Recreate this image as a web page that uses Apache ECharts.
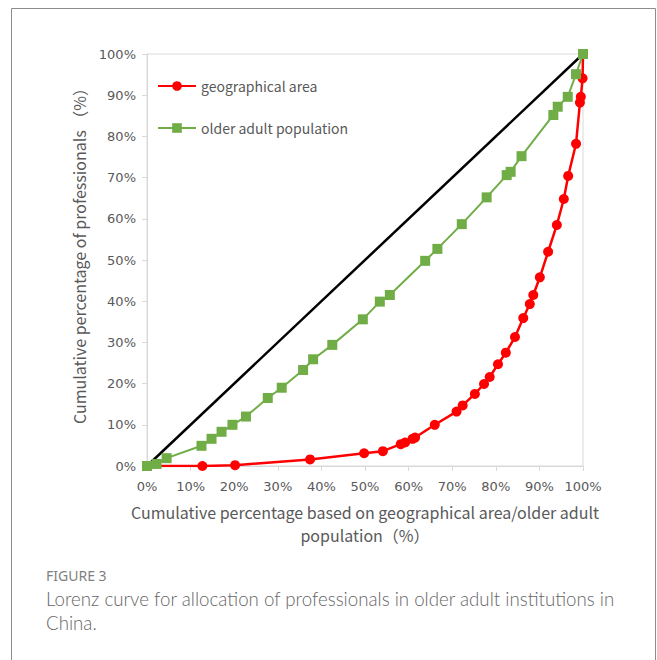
<!DOCTYPE html>
<html>
<head>
<meta charset="utf-8">
<script src="https://cdn.jsdelivr.net/npm/echarts@6/dist/echarts.min.js"></script>
<style>
  html, body { margin: 0; padding: 0; background: #fff; }
  #chart { width: 657px; height: 660px; }
</style>
</head>
<body>
<div id="chart"></div>
<script>
// Cumulative share of professionals (%) against cumulative share of
// geographical area and of older adult population (%), by province.
const areaX = [0, 12.7, 20.2, 37.4, 49.8, 54.1, 58.2, 59.2, 60.9, 61.5, 66.0, 71.0, 72.4, 75.2, 77.3, 78.6, 80.5, 82.3, 84.4, 86.3, 87.8, 88.6, 90.1, 92.0, 94.0, 95.6, 96.6, 98.4, 99.3, 99.5, 99.9, 100];
const areaY = [0, 0.0, 0.2, 1.6, 3.1, 3.6, 5.3, 5.7, 6.6, 6.9, 10.0, 13.2, 14.7, 17.5, 19.9, 21.6, 24.7, 27.5, 31.3, 35.9, 39.3, 41.5, 45.8, 52.0, 58.5, 64.8, 70.4, 78.2, 88.2, 89.6, 94.1, 100];

const popX = [0, 2.2, 4.5, 12.5, 14.8, 17.1, 19.6, 22.7, 27.7, 30.9, 35.8, 38.1, 42.5, 49.5, 53.4, 55.7, 63.8, 66.6, 72.2, 77.9, 82.5, 83.4, 85.9, 93.2, 94.2, 96.5, 98.4, 100];
const popY = [0, 0.5, 1.9, 4.9, 6.6, 8.3, 10.0, 12.0, 16.5, 19.0, 23.3, 25.9, 29.4, 35.6, 39.9, 41.5, 49.8, 52.7, 58.7, 65.2, 70.6, 71.4, 75.2, 85.2, 87.2, 89.6, 95.1, 100];

// Line of perfect equality
const equalX = [0, 100];
const equalY = [0, 100];

const seriesNames = ['geographical area', 'older adult population'];
const tickLabels = ['0%', '10%', '20%', '30%', '40%', '50%', '60%', '70%', '80%', '90%', '100%'];

const zip = (xs, ys) => xs.map((x, i) => [x, ys[i]]);

const axisGray = '#d9d9d9';
const textGray = '#595959';
const tickFont = { color: textGray, fontSize: 13, fontFamily: 'DejaVu Sans' };
const titleFont = { color: textGray, fontSize: 16, fontFamily: 'Noto Sans CJK SC' };

const chart = echarts.init(document.getElementById('chart'), null, { renderer: 'svg' });

chart.setOption({
  animation: false,
  backgroundColor: '#fff',
  grid: {
    left: 147, right: 74, top: 54, bottom: 194,
    show: true, borderColor: axisGray, borderWidth: 1
  },
  legend: {
    data: seriesNames,
    orient: 'vertical',
    left: 152, top: 74,
    itemWidth: 38, itemHeight: 12, itemGap: 28,
    textStyle: { color: textGray, fontSize: 14, fontFamily: 'Noto Sans CJK SC' }
  },
  xAxis: {
    type: 'value', min: 0, max: 100, interval: 10,
    splitLine: { show: false },
    axisLine: { show: true, lineStyle: { color: axisGray } },
    axisTick: { show: true, length: 5, lineStyle: { color: axisGray } },
    axisLabel: Object.assign({ margin: 14, formatter: v => tickLabels[Math.round(v / 10)] }, tickFont),
    name: 'Cumulative percentage based on geographical area/older adult\npopulation（%）',
    nameLocation: 'middle',
    nameGap: 34,
    nameTextStyle: Object.assign({ lineHeight: 23 }, titleFont)
  },
  yAxis: {
    type: 'value', min: 0, max: 100, interval: 10,
    splitLine: { show: false },
    axisLine: { show: true, lineStyle: { color: axisGray } },
    axisTick: { show: true, length: 5, lineStyle: { color: axisGray } },
    axisLabel: Object.assign({ margin: 11, formatter: v => tickLabels[Math.round(v / 10)] }, tickFont),
    name: 'Cumulative percentage of professionals （%）',
    nameLocation: 'middle',
    nameGap: 60,
    nameTextStyle: Object.assign({ padding: [0, 0, 0, 16] }, titleFont)
  },
  series: [
    {
      name: seriesNames[0], type: 'line',
      data: zip(areaX, areaY),
      symbol: 'circle', symbolSize: 10,
      itemStyle: { color: '#ff0000' },
      lineStyle: { color: '#ff0000', width: 2.5 }
    },
    {
      name: seriesNames[1], type: 'line',
      data: zip(popX, popY),
      symbol: 'rect', symbolSize: 10,
      itemStyle: { color: '#70ad47' },
      lineStyle: { color: '#70ad47', width: 2 }
    },
    {
      name: 'equality', type: 'line',
      data: zip(equalX, equalY),
      symbol: 'none',
      lineStyle: { color: '#000', width: 2.5 }
    }
  ],
  graphic: [
    {
      type: 'rect', silent: true,
      shape: { x: 11.5, y: 8.5, width: 644, height: 700 },
      style: { fill: 'none', stroke: '#8c8c8c', lineWidth: 1 }
    },
    {
      type: 'text', left: 46, top: 568,
      style: { text: 'FIGURE 3', fill: '#7f7f7f', font: '14px "Noto Sans"' }
    },
    {
      type: 'text', left: 46, top: 587,
      style: {
        text: 'Lorenz curve for allocation of professionals in older adult institutions in\nChina.',
        fill: '#666666', font: '300 18.7px Lato', lineHeight: 24
      }
    }
  ]
});
</script>
</body>
</html>
